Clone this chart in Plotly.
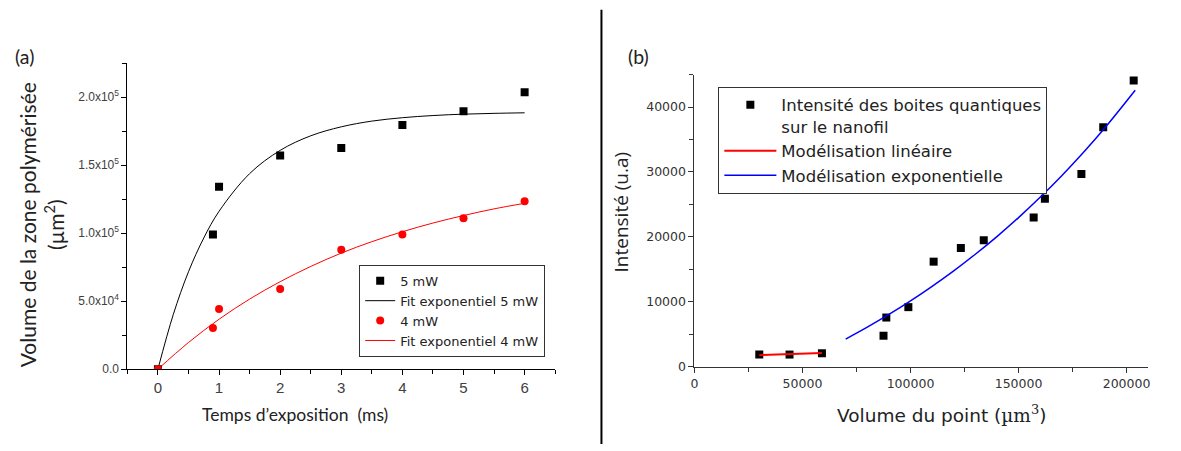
import plotly.graph_objects as go

# ---------------- Panel (a) data ----------------
t_5mw = [0, 0.9, 1.0, 2.0, 3.0, 4.0, 5.0, 6.0]
v_5mw = [0, 99000, 134000, 157000, 162500, 179500, 189500, 203600]
t_4mw = [0, 0.9, 1.0, 2.0, 3.0, 4.0, 5.0, 6.0]
v_4mw = [0, 30200, 44200, 58900, 87700, 99000, 110900, 123400]

t_fit5 = [0, 0.25, 0.5, 0.75, 1.0, 1.5, 2.0, 2.5, 3.0, 3.5, 4.0, 4.5, 5.0, 5.5, 6.0]
v_fit5 = [0, 40000, 71600, 96400, 116000, 143700, 160800, 171500, 178100,
          182300, 184800, 186400, 187400, 188000, 188400]
t_fit4 = [0, 0.5, 1.0, 1.5, 2.0, 2.5, 3.0, 3.5, 4.0, 4.5, 5.0, 5.5, 6.0]
v_fit4 = [0, 19600, 36700, 51500, 64300, 75500, 85300, 93700, 101000,
          107400, 112900, 117800, 121900]

a_ytickvals = [0, 50000, 100000, 150000, 200000]
a_yticktext = ["0.0", "5.0x10<sup>4</sup>", "1.0x10<sup>5</sup>",
               "1.5x10<sup>5</sup>", "2.0x10<sup>5</sup>"]

# ---------------- Panel (b) data ----------------
vol_pts = [30000, 44000, 59000, 87500, 88800, 99000, 110700, 123300,
           133900, 157000, 162200, 179100, 189200, 203300]
int_pts = [1900, 1900, 2100, 4800, 7600, 9200, 16200, 18300,
           19500, 23000, 25900, 29700, 36900, 44100]

vol_lin = [30000, 45000, 59000]
int_lin = [1800, 1950, 2150]

vol_exp = [70000, 80000, 90000, 100000, 110000, 120000, 130000, 140000,
           150000, 160000, 170000, 180000, 190000, 204000]
int_exp = [4290, 6120, 8070, 10160, 12400, 14780, 17340, 20060,
           22980, 26100, 29430, 32990, 36800, 42570]

W, H = 1181, 451


def px(x):
    return x / W


def py(y):
    return 1 - y / H


fig = go.Figure()

# Panel (a)
fig.add_trace(go.Scatter(x=t_5mw, y=v_5mw, mode="markers", name="5 mW",
                         marker=dict(symbol="square", size=8, color="black"),
                         xaxis="x", yaxis="y", legend="legend"))
fig.add_trace(go.Scatter(x=t_fit5, y=v_fit5, mode="lines", name="Fit exponentiel 5 mW",
                         line=dict(color="black", width=1, shape="spline"),
                         xaxis="x", yaxis="y", legend="legend"))
fig.add_trace(go.Scatter(x=t_4mw, y=v_4mw, mode="markers", name="4 mW",
                         marker=dict(symbol="circle", size=8, color="#ff0000"),
                         xaxis="x", yaxis="y", legend="legend"))
fig.add_trace(go.Scatter(x=t_fit4, y=v_fit4, mode="lines", name="Fit exponentiel 4 mW",
                         line=dict(color="#ff0000", width=1, shape="spline"),
                         xaxis="x", yaxis="y", legend="legend"))

# Panel (b)
fig.add_trace(go.Scatter(x=vol_pts, y=int_pts, mode="markers",
                         name="Intensité des boites quantiques<br>sur le nanofil",
                         marker=dict(symbol="square", size=8, color="black"),
                         xaxis="x2", yaxis="y2", legend="legend2"))
fig.add_trace(go.Scatter(x=vol_lin, y=int_lin, mode="lines", name="Modélisation linéaire",
                         line=dict(color="#ff0000", width=2),
                         xaxis="x2", yaxis="y2", legend="legend2"))
fig.add_trace(go.Scatter(x=vol_exp, y=int_exp, mode="lines", name="Modélisation exponentielle",
                         line=dict(color="#0000ff", width=1.5, shape="spline"),
                         xaxis="x2", yaxis="y2", legend="legend2"))

tick_a_x = dict(family="Liberation Sans Narrow, Liberation Sans, Arial", size=15, color="#404040")
tick_a_y = dict(family="Liberation Sans, Arial", size=12, color="#404040")
tick_b = dict(family="DejaVu Sans, Verdana", size=12.5, color="#333333")
label_font = dict(family="Lato, Open Sans", size=19.5, color="#222222")

fig.update_layout(
    width=W, height=H,
    margin=dict(l=0, r=0, t=0, b=0),
    paper_bgcolor="white", plot_bgcolor="white",
    xaxis=dict(domain=[px(124), px(554)], anchor="y", range=[-0.5, 6.5],
               tickvals=[0, 1, 2, 3, 4, 5, 6], ticks="outside", ticklen=5,
               tickcolor="black", showline=True, linecolor="black", linewidth=1,
               showgrid=False, zeroline=False, tickfont=tick_a_x,
               minor=dict(ticks="outside", dtick=0.5, tick0=0, ticklen=4, tickcolor="black")),
    yaxis=dict(domain=[py(375), py(64)], anchor="x", range=[0, 225000],
               tickvals=a_ytickvals, ticktext=a_yticktext, ticks="outside", ticklen=5,
               tickcolor="black", showline=True, linecolor="black", linewidth=1,
               showgrid=False, zeroline=False, tickfont=tick_a_y,
               minor=dict(ticks="outside", dtick=25000, tick0=0, ticklen=4, tickcolor="black")),
    xaxis2=dict(domain=[px(694), px(1150)], anchor="y2", range=[0, 210000],
                tickvals=[0, 50000, 100000, 150000, 200000], ticks="outside", ticklen=5,
                tickcolor="#333333", showline=True, linecolor="#333333", linewidth=1,
                showgrid=False, zeroline=False, tickfont=tick_b, tickformat="d",
                minor=dict(ticks="outside", dtick=25000, tick0=0, ticklen=4, tickcolor="#333333")),
    yaxis2=dict(domain=[py(372.7), py(75.7)], anchor="x2", range=[0, 45000],
                tickvals=[0, 10000, 20000, 30000, 40000], ticks="outside", ticklen=5,
                tickcolor="#333333", showline=True, linecolor="#333333", linewidth=1,
                showgrid=False, zeroline=False, tickfont=tick_b, tickformat="d",
                minor=dict(ticks="outside", dtick=5000, tick0=0, ticklen=4, tickcolor="#333333")),
    legend=dict(x=px(357), y=py(269), xanchor="left", yanchor="top",
                bgcolor="white", bordercolor="#333333", borderwidth=1,
                font=dict(family="DejaVu Sans, Verdana", size=13, color="#222222"),
                tracegroupgap=0, itemwidth=30),
    legend2=dict(x=px(718), y=py(88), xanchor="left", yanchor="top",
                 bgcolor="white", bordercolor="#333333", borderwidth=1, valign="top",
                 font=dict(family="DejaVu Sans, Verdana", size=16.5, color="#222222"),
                 tracegroupgap=0, itemwidth=52),
    showlegend=True,
)

C = dict(xref="paper", yref="paper", showarrow=False, xanchor="center", yanchor="middle")
annotations = [
    dict(text="(a)", x=px(21), y=py(57), font=label_font, **C),
    dict(text="(b)", x=px(638), y=py(57), font=label_font, **C),
    dict(text="Volume de la zone polymérisée<br>(µm<sup>2</sup>)", x=px(38), y=py(228),
         textangle=-90, font=dict(family="Lato, Open Sans", size=21, color="#222222"), **C),
    dict(text="Temps d’exposition  (ms)", x=px(292), y=py(421),
         font=dict(family="Lato, Open Sans", size=17.5, color="#222222"), **C),
    dict(text="Intensité (u.a)", x=px(620), y=py(215), textangle=-90,
         font=dict(family="Open Sans, Lato", size=19, color="#222222"), **C),
    dict(text="Volume du point (<span style=\"font-family:'DejaVu Serif'\">µm<sup>3</sup></span>)",
         x=px(942), y=py(421),
         font=dict(family="DejaVu Sans, Verdana", size=18.5, color="#222222"), **C),
]
fig.update_layout(annotations=annotations)

fig.add_shape(type="line", xref="paper", yref="paper",
              x0=px(600.5), x1=px(600.5), y0=0, y1=py(10),
              line=dict(color="black", width=2))

fig.write_html("out.html", post_script="document.body.style.margin='0px';",
               config={"displayModeBar": False})
